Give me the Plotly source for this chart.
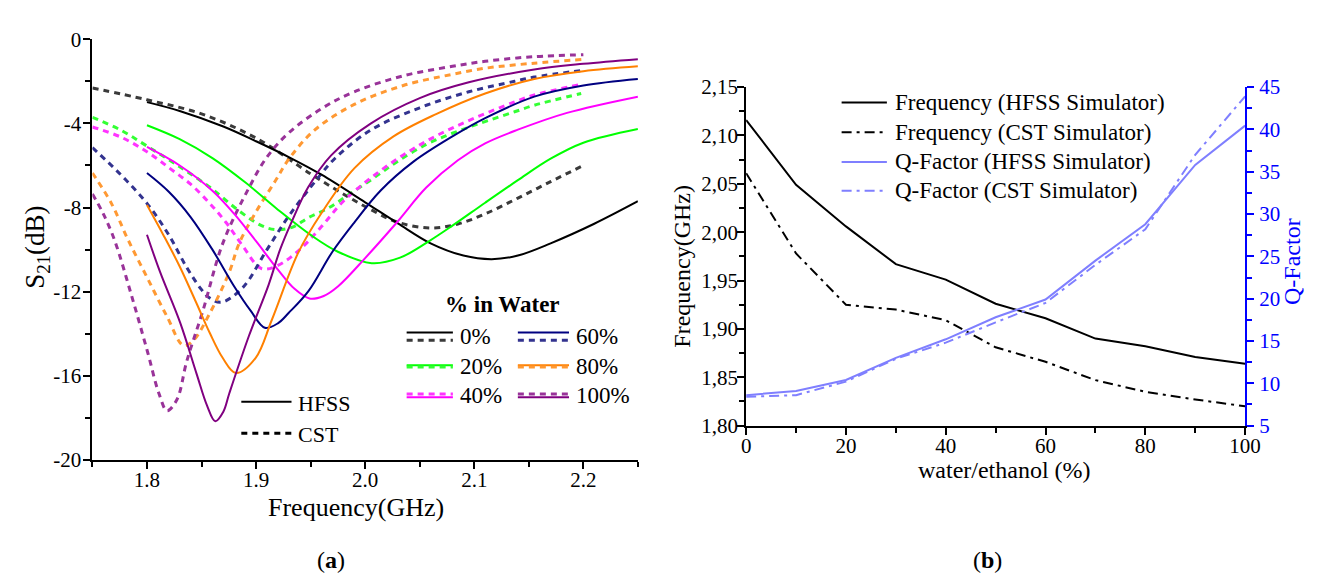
import plotly.graph_objects as go

W, H = 1321, 584
FONT = "Liberation Serif, Times New Roman, serif"

# ---------------- Panel (a): S21 vs frequency ----------------
water_labels = ["0%", "20%", "40%", "60%", "80%", "100%"]

hfss_f = {
    "0%":   [1.80, 1.83, 1.87, 1.90, 1.93, 1.96, 2.00, 2.03, 2.06, 2.09, 2.116, 2.14, 2.17, 2.21, 2.25],
    "20%":  [1.80, 1.83, 1.86, 1.89, 1.92, 1.95, 1.975, 2.006, 2.032, 2.059, 2.08, 2.11, 2.14, 2.17, 2.20, 2.25],
    "40%":  [1.80, 1.83, 1.86, 1.88, 1.90, 1.92, 1.935, 1.949, 1.962, 1.975, 2.00, 2.029, 2.056, 2.085, 2.11, 2.14, 2.185, 2.25],
    "60%":  [1.80, 1.82, 1.84, 1.86, 1.88, 1.895, 1.908, 1.92, 1.93, 1.948, 1.97, 1.99, 2.014, 2.044, 2.08, 2.11, 2.155, 2.20, 2.25],
    "80%":  [1.80, 1.815, 1.83, 1.845, 1.8575, 1.8695, 1.8815, 1.8995, 1.9145, 1.9386, 1.96, 1.99, 2.026, 2.065, 2.11, 2.155, 2.20, 2.25],
    "100%": [1.80, 1.812, 1.8305, 1.8455, 1.855, 1.8626, 1.87, 1.8755, 1.8935, 1.9115, 1.922, 1.932, 1.9476, 1.9686, 2.005, 2.05, 2.095, 2.155, 2.20, 2.25],
}
hfss_db = {
    "0%":   [-2.99, -3.41, -4.15, -4.85, -5.6, -6.44, -7.75, -8.75, -9.7, -10.28, -10.45, -10.28, -9.7, -8.77, -7.7],
    "20%":  [-4.09, -4.75, -5.65, -6.8, -8.1, -9.3, -10.1, -10.64, -10.38, -9.58, -8.86, -7.77, -6.7, -5.68, -4.92, -4.27],
    "40%":  [-5.12, -6.0, -7.2, -8.3, -9.6, -10.95, -11.85, -12.32, -12.2, -11.75, -10.4, -8.71, -7.05, -5.75, -4.95, -4.3, -3.5, -2.73],
    "60%":  [-6.36, -7.25, -8.45, -10.0, -11.75, -12.9, -13.71, -13.5, -13.0, -11.97, -10.1, -8.71, -7.2, -5.83, -4.62, -3.75, -2.73, -2.2, -1.89],
    "80%":  [-7.88, -9.3, -10.8, -12.5, -13.95, -15.15, -15.86, -15.15, -13.33, -10.15, -8.26, -6.14, -4.62, -3.56, -2.58, -1.89, -1.52, -1.29],
    "100%": [-9.29, -11.06, -13.48, -15.9, -17.4, -18.15, -17.7, -16.82, -14.09, -11.67, -10.0, -8.75, -7.05, -5.53, -4.01, -2.8, -2.05, -1.44, -1.17, -0.95],
}
cst_f = {
    "0%":   [1.75, 1.80, 1.85, 1.90, 1.95, 1.975, 2.00, 2.03, 2.06, 2.085, 2.11, 2.14, 2.17, 2.20],
    "20%":  [1.75, 1.776, 1.80, 1.83, 1.858, 1.885, 1.905, 1.918, 1.933, 1.948, 1.966, 1.984, 2.008, 2.029, 2.056, 2.08, 2.104, 2.137, 2.155, 2.198],
    "40%":  [1.75, 1.776, 1.80, 1.821, 1.84, 1.8575, 1.8725, 1.8875, 1.905, 1.92, 1.94, 1.96, 1.98, 2.005, 2.035, 2.065, 2.098, 2.137, 2.155, 2.198],
    "60%":  [1.75, 1.776, 1.80, 1.82, 1.8365, 1.85, 1.8575, 1.868, 1.8875, 1.91, 1.93, 1.9566, 1.972, 2.005, 2.05, 2.095, 2.137, 2.155, 2.20],
    "80%":  [1.75, 1.7674, 1.7824, 1.8005, 1.8184, 1.8334, 1.8424, 1.8575, 1.8755, 1.8845, 1.90, 1.9176, 1.93, 1.9536, 1.99, 2.035, 2.08, 2.11, 2.155, 2.20],
    "100%": [1.75, 1.76, 1.7703, 1.7854, 1.8005, 1.8109, 1.8184, 1.8275, 1.8365, 1.8514, 1.8695, 1.8936, 1.91, 1.93, 1.96, 1.99, 2.035, 2.08, 2.11, 2.155, 2.20],
}
cst_db = {
    "0%":   [-2.32, -2.88, -3.55, -4.7, -6.4, -7.2, -7.95, -8.7, -8.97, -8.78, -8.3, -7.55, -6.77, -6.0],
    "20%":  [-3.71, -4.32, -5.08, -6.06, -7.05, -8.18, -8.86, -9.05, -8.94, -8.48, -8.03, -7.42, -6.59, -5.83, -5.0, -4.47, -4.02, -3.45, -3.14, -2.58],
    "40%":  [-4.17, -4.65, -5.35, -6.14, -6.89, -7.8, -8.71, -9.8, -10.9, -10.75, -10.0, -8.9, -7.7, -6.6, -5.5, -4.6, -3.8, -2.98, -2.65, -2.15],
    "60%":  [-5.15, -6.44, -7.8, -9.3, -10.85, -11.9, -12.3, -12.5, -11.82, -10.0, -8.4, -6.6, -5.68, -4.32, -3.26, -2.5, -2.0, -1.8, -1.48],
    "80%":  [-6.36, -7.8, -9.5, -11.36, -13.18, -14.55, -14.32, -13.03, -11.06, -9.7, -8.2, -6.74, -5.7, -4.32, -3.1, -2.2, -1.67, -1.38, -1.14, -0.96],
    "100%": [-7.35, -8.3, -9.55, -12.1, -14.85, -16.82, -17.65, -17.12, -15.3, -12.88, -9.7, -7.05, -5.6, -4.45, -3.3, -2.5, -1.74, -1.29, -1.05, -0.83, -0.74],
}
hfss_colors = {"0%": "#000000", "20%": "#00FF00", "40%": "#FF00FF",
               "60%": "#000080", "80%": "#FF8000", "100%": "#800080"}
cst_colors = {"0%": "#3a3a3a", "20%": "#33FF33", "40%": "#FF33FF",
              "60%": "#33338F", "80%": "#FF9933", "100%": "#993399"}

s21_ticks = [0, -4, -8, -12, -16, -20]
freq_ticks_a = [1.8, 1.9, 2.0, 2.1, 2.2]

# ---------------- Panel (b): resonance / Q-factor ----------------
water_pct = [0, 10, 20, 30, 40, 50, 60, 70, 80, 90, 100]
freq_hfss = [2.116, 2.049, 2.006, 1.967, 1.951, 1.926, 1.911, 1.890, 1.882, 1.871, 1.864]
freq_cst = [2.061, 1.978, 1.925, 1.920, 1.909, 1.881, 1.866, 1.847, 1.835, 1.827, 1.820]
q_hfss = [8.6, 9.1, 10.4, 13.0, 15.2, 17.8, 19.9, 24.5, 28.8, 35.8, 40.45]
q_cst = [8.4, 8.6, 10.2, 12.9, 14.8, 17.2, 19.5, 24.0, 28.2, 37.0, 43.9]

freq_ticks_b = [1.80, 1.85, 1.90, 1.95, 2.00, 2.05, 2.10, 2.15]
freq_ticktext_b = ["1,80", "1,85", "1,90", "1,95", "2,00", "2,05", "2,10", "2,15"]
q_ticks = [5, 10, 15, 20, 25, 30, 35, 40, 45]
pct_ticks = [0, 20, 40, 60, 80, 100]

Q_COLOR = "#7F7FFF"
BLUE = "#0000FF"
DOT = "6px,5px"
DASHDOT = "10px,5px,3px,5px"

fig = go.Figure()

for lab in water_labels:
    fig.add_trace(go.Scatter(x=cst_f[lab], y=cst_db[lab], mode="lines",
                             line=dict(color=cst_colors[lab], width=3, dash=DOT, shape="spline", smoothing=1.0),
                             xaxis="x", yaxis="y", showlegend=False))
for lab in water_labels:
    fig.add_trace(go.Scatter(x=hfss_f[lab], y=hfss_db[lab], mode="lines",
                             line=dict(color=hfss_colors[lab], width=2, shape="spline", smoothing=1.0),
                             xaxis="x", yaxis="y", showlegend=False))

fig.add_trace(go.Scatter(x=water_pct, y=freq_hfss, mode="lines",
                         line=dict(color="black", width=2), xaxis="x2", yaxis="y2", showlegend=False))
fig.add_trace(go.Scatter(x=water_pct, y=freq_cst, mode="lines",
                         line=dict(color="black", width=2, dash=DASHDOT), xaxis="x2", yaxis="y2", showlegend=False))
fig.add_trace(go.Scatter(x=water_pct, y=q_hfss, mode="lines",
                         line=dict(color=Q_COLOR, width=2), xaxis="x2", yaxis="y3", showlegend=False))
fig.add_trace(go.Scatter(x=water_pct, y=q_cst, mode="lines",
                         line=dict(color=Q_COLOR, width=2, dash=DASHDOT), xaxis="x2", yaxis="y3", showlegend=False))


def px(x):
    return x / W


def py(y):
    return 1 - y / H


tickfont = dict(family=FONT, size=21, color="black")
common = dict(showgrid=False, zeroline=False, showline=True, linecolor="black", linewidth=2,
              ticks="outside", tickwidth=2, ticklen=7, tickcolor="black", tickfont=tickfont)
minor_k = dict(ticks="outside", ticklen=5, tickwidth=2, tickcolor="black")

fig.update_layout(
    width=W, height=H, margin=dict(l=0, r=0, t=0, b=0),
    paper_bgcolor="white", plot_bgcolor="white",
    font=dict(family=FONT, color="black"),
    xaxis=dict(domain=[px(80.7), px(635)], range=[1.75, 2.25], anchor="y",
               tickvals=freq_ticks_a, ticktext=[f"{v:.1f}" for v in freq_ticks_a],
               ticklabelstandoff=-7, minor=dict(dtick=0.05, tick0=1.75, **minor_k), **common),
    yaxis=dict(domain=[py(459), py(20)], range=[-20, 0], anchor="x",
               tickvals=s21_ticks, ticktext=[str(v) for v in s21_ticks],
               ticklabelstandoff=-2, minor=dict(dtick=2, tick0=0, **minor_k), **common),
    xaxis2=dict(domain=[px(745), px(1252)], range=[0, 100], anchor="y2",
                tickvals=pct_ticks, ticklabelstandoff=-7,
                minor=dict(dtick=10, tick0=0, **minor_k), **common),
    yaxis2=dict(domain=[py(423), py(70)], range=[1.80, 2.15], anchor="x2",
                tickvals=freq_ticks_b, ticktext=freq_ticktext_b, ticklabelstandoff=-5,
                minor=dict(dtick=0.025, tick0=1.8, **minor_k), **common),
    yaxis3=dict(domain=[py(423), py(70)], range=[5, 45], anchor="x2", overlaying="y2", side="right",
                tickvals=q_ticks, showgrid=False, zeroline=False, showline=True, linecolor=BLUE, linewidth=2,
                ticks="outside", tickwidth=2, ticklen=7, tickcolor=BLUE, ticklabelstandoff=1,
                tickfont=dict(family=FONT, size=21, color=BLUE),
                minor=dict(dtick=2.5, tick0=5, ticks="outside", ticklen=5, tickwidth=2, tickcolor=BLUE)),
)

shapes = []
ann = []


def hline(x0, x1, y, color, width=2, dash="solid"):
    shapes.append(dict(type="line", xref="paper", yref="paper", x0=px(x0), x1=px(x1), y0=py(y), y1=py(y),
                       line=dict(color=color, width=width, dash=dash)))


def text(x, y, s, size=21, color="black", xanchor="left", angle=0):
    ann.append(dict(x=px(x), y=py(y), xref="paper", yref="paper", text=s, showarrow=False,
                    font=dict(family=FONT, size=size, color=color), xanchor=xanchor, yanchor="middle",
                    textangle=angle))


# Panel (a) legend: % in Water
text(497, 297, "<b>% in Water</b>", size=23, xanchor="center")
leg_rows = [(326, 334), (360, 362), (393.5, 390)]
leg_cols = [(400, 447, 452), (513, 565, 570)]
for i, lab in enumerate(water_labels):
    c, r = divmod(i, 3)
    x0, x1, xt = leg_cols[c]
    ys, yd = leg_rows[r]
    hline(x0, x1, ys, hfss_colors[lab], 2)
    hline(x0, x1, yd, cst_colors[lab], 3, DOT)
    text(xt, (ys + yd) / 2, lab, size=23)

# Panel (a) legend: solver line styles
hline(232, 283, 398, "black", 2)
hline(232, 283, 431, "black", 3, DOT)
text(288, 400, "HFSS", size=22)
text(288, 432, "CST", size=22)

# Panel (b) legend
legend_b = [("Frequency (HFSS Simulator)", "black", "solid"),
            ("Frequency (CST Simulator)", "black", DASHDOT),
            ("Q-Factor (HFSS Simulator)", Q_COLOR, "solid"),
            ("Q-Factor (CST Simulator)", Q_COLOR, DASHDOT)]
for (s, col, d), y in zip(legend_b, [86, 117, 148, 178]):
    hline(842, 888, y, col, 2, d)
    text(894, y, s, size=23)

# Axis titles
text(349, 508, "Frequency(GHz)", size=26, xanchor="center")
text(25, 237, "S<sub>21</sub>(dB)", size=27, xanchor="center", angle=-90)
text(1008, 469, "water/ethanol (%)", size=24, xanchor="center")
text(680, 257, "Frequency(GHz)", size=24, xanchor="center", angle=-90)
text(1299, 252, "Q-Factor", size=24, color=BLUE, xanchor="center", angle=-90)

# Captions
text(323, 563, "(<b>a</b>)", size=24, xanchor="center")
text(990, 563, "(<b>b</b>)", size=24, xanchor="center")

fig.update_layout(shapes=shapes, annotations=ann)
fig.write_html("out.html")
